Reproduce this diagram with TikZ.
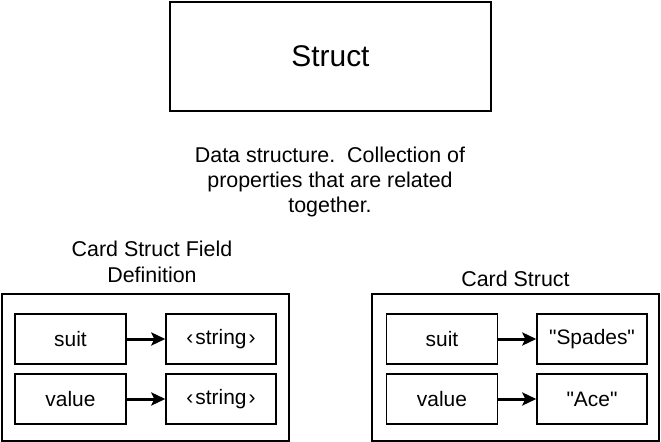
\documentclass[tikz,border=0pt]{standalone}
\usepackage{fontspec}
\setmainfont{Liberation Sans}
\usetikzlibrary{arrows.meta}

\begin{document}
\begin{tikzpicture}[x=1bp, y=-1bp,
        box/.style={rectangle, draw=black, line width=1.4bp, inner sep=0pt},
        field/.style={box, minimum width=111bp, minimum height=50bp, font=\fontsize{21}{25}\selectfont},
        caption/.style={align=center, inner sep=0pt, font=\fontsize{21.5}{25.5}\selectfont},
        link/.style={draw=black, line width=3bp, -{Stealth[length=14bp, width=13bp, inset=3bp]}}]
    \useasboundingbox (0, 0) rectangle (661, 442);

    \node (struct)[box, minimum width=321bp, minimum height=109bp, font=\fontsize{30}{36}\selectfont] at (330.5, 56.5) {Struct};
    \node (about)[caption] at (330, 182) {Data structure.\ \ Collection of\\properties that are related\\together.};

    \node (deflabel)[caption] at (152, 262) {Card Struct Field\\Definition};
    \node (cardlabel)[caption] at (515.5, 279) {Card Struct};

    \node (defbox)[box, minimum width=287bp, minimum height=147bp] at (145.5, 367.5) {};
    \node (cardbox)[box, minimum width=287bp, minimum height=147bp] at (515.5, 367.5) {};

    \node (defsuit)[field] at (70.5, 339) {suit};
    \node (defvalue)[field] at (70.5, 399) {value};
    \node (suittype)[field, minimum width=110bp] at (221, 339) {‹\kern2bp string\kern2bp›};
    \node (valuetype)[field, minimum width=110bp] at (221, 399) {‹\kern2bp string\kern2bp›};

    \node (cardsuit)[field] at (442, 339) {suit};
    \node (cardvalue)[field] at (442, 399) {value};
    \node (spades)[field, minimum width=110bp] at (592, 339) {\textquotedbl Spades\textquotedbl};
    \node (ace)[field, minimum width=110bp] at (592, 399) {\textquotedbl Ace\textquotedbl};

    \draw [link] (defsuit) -- (suittype);
    \draw [link] (defvalue) -- (valuetype);
    \draw [link] (cardsuit) -- (spades);
    \draw [link] (cardvalue) -- (ace);
\end{tikzpicture}
\end{document}
